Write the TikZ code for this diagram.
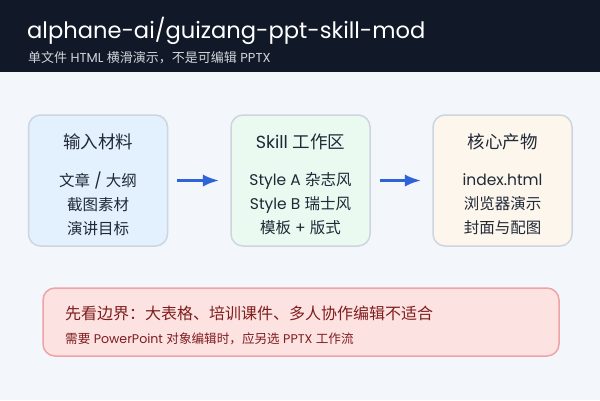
\documentclass[tikz,border=0pt]{standalone}
\usepackage{fontspec}
\setmainfont{Poppins}
\newfontfamily\cjk{Noto Sans CJK SC}
\usetikzlibrary{arrows.meta,positioning}
\definecolor{header}{HTML}{111827}
\definecolor{page}{HTML}{F3F6FA}
\definecolor{subtle}{HTML}{D1D5DB}
\definecolor{edge}{HTML}{CDD5DF}
\definecolor{ink}{HTML}{1F2937}
\definecolor{inblue}{HTML}{E3F0FD}
\definecolor{wkgreen}{HTML}{EBFAF0}
\definecolor{outcream}{HTML}{FDF6EC}
\definecolor{flow}{HTML}{2F64D8}
\definecolor{warnfill}{HTML}{FDE2E2}
\definecolor{warnedge}{HTML}{EFA3A6}
\definecolor{warnink}{HTML}{7F1D1D}

\begin{document}
\begin{tikzpicture}[x=1pt,y=-1pt,>=Latex,
  stage/.style={rounded corners=12pt,draw=edge,line width=1.5pt,minimum width=139pt,minimum height=131pt,inner sep=0pt},
  stagetitle/.style={text=ink,font=\fontsize{17.5}{20}\selectfont},
  stagebody/.style={text=ink,align=center,font=\fontsize{15.5}{24}\selectfont}]
% page and header
\fill[page] (0,0) rectangle (600,400);
\fill[header] (0,0) rectangle (600,72);
\node[anchor=base west,inner sep=0pt,text=white,font=\fontsize{22.6}{26}\selectfont] (title) at (27,38) {alphane-ai/guizang-ppt-skill-mod};
\node[anchor=base west,inner sep=0pt,text=subtle,font=\fontsize{13}{15}\selectfont] (sub) at (28,62) {{\cjk 单文件} HTML {\cjk 横滑演示，不是可编辑} PPTX};
% three stages
\node[stage,fill=inblue] (inp) at (98,180.5) {};
\node[stage,fill=wkgreen] (work) at (300.5,180.5) {};
\node[stage,fill=outcream] (out) at (502.5,180.5) {};
\node[stagetitle] (inpT) at (98,142) {\cjk 输入材料};
\node[stagetitle] (workT) at (300.5,142) {Skill {\cjk 工作区}};
\node[stagetitle] (outT) at (502.5,142) {\cjk 核心产物};
\node[stagebody] (inpB) at (98,204) {{\cjk 文章} / {\cjk 大纲}\\{\cjk 截图素材}\\{\cjk 演讲目标}};
\node[stagebody] (workB) at (300.5,204) {Style A {\cjk 杂志风}\\Style B {\cjk 瑞士风}\\{\cjk 模板} + {\cjk 版式}};
\node[stagebody] (outB) at (502.5,204) {index.html\\{\cjk 浏览器演示}\\{\cjk 封面与配图}};
\foreach \u/\v in {inp/work,work/out}{\draw[->,line width=3pt,flow,shorten <=9pt,shorten >=11pt] (\u)--(\v);}
% boundary note
\node[rounded corners=12pt,draw=warnedge,fill=warnfill,line width=1.5pt,minimum width=516pt,minimum height=68pt] (note) at (301,322) {};
\node[anchor=base west,inner sep=0pt,text=warnink,font=\cjk\fontsize{16}{18}\selectfont] (noteA) at (65,319) {先看边界：大表格、培训课件、多人协作编辑不适合};
\node[anchor=base west,inner sep=0pt,text=warnink,font=\fontsize{12.6}{14}\selectfont] (noteB) at (65,343) {{\cjk 需要} PowerPoint {\cjk 对象编辑时，应另选} PPTX {\cjk 工作流}};
\end{tikzpicture}
\end{document}
